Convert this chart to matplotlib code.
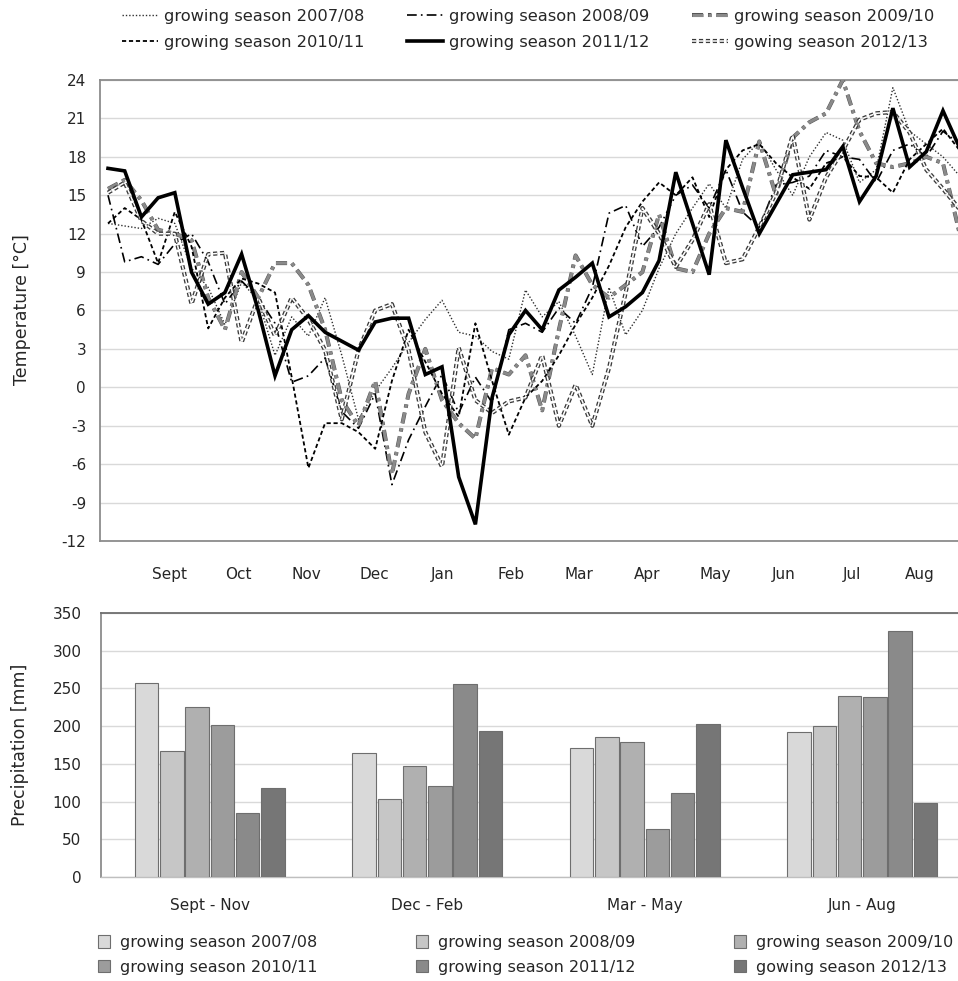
import matplotlib
matplotlib.use("Agg")
import matplotlib.pyplot as plt
import matplotlib.patheffects as pe
from matplotlib.patches import Patch
import numpy as np

plt.rcParams["font.family"] = ["DejaVu Sans"]
plt.rcParams["lines.scale_dashes"] = False
plt.rcParams["axes.unicode_minus"] = False

# ---- data -------------------------------------------------------------------
seasons = ["growing season 2007/08", "growing season 2008/09", "growing season 2009/10",
           "growing season 2010/11", "growing season 2011/12", "gowing season 2012/13"]
months = ["Sept", "Oct", "Nov", "Dec", "Jan", "Feb", "Mar", "Apr", "May", "Jun", "Jul", "Aug"]

# weekly mean temperature [°C], one value per week (52 weeks, last one runs off the frame)
t_0708 = [12.8, 12.6, 12.4, 13.2, 12.8, 9.3, 7.8, 4.9, 8.2, 6.8, 2.5, 5.5, 4.0, 7.0, 2.5,
          -2.5, -0.3, 1.5, 3.5, 5.3, 6.8, 4.3, 4.0, 2.8, 2.2, 7.6, 5.5, 6.7, 4.0, 1.0,
          7.8, 4.1, 6.0, 9.3, 12.0, 14.0, 15.9, 14.0, 17.8, 19.2, 17.0, 15.0, 18.0, 19.9,
          19.3, 16.0, 17.0, 23.4, 20.0, 19.0, 18.0, 16.5]
t_0809 = [15.0, 9.8, 10.2, 9.6, 11.2, 12.0, 9.8, 6.5, 8.3, 7.0, 5.0, 0.4, 0.9, 2.3, -1.9,
          -3.2, -0.5, -7.6, -4.1, -1.5, 1.0, -2.0, 0.8, -1.2, 4.5, 5.0, 4.3, 6.2, 5.0, 7.8,
          13.6, 14.2, 11.0, 12.5, 15.0, 15.8, 14.0, 17.0, 13.7, 12.5, 15.8, 16.0, 16.5,
          18.5, 18.0, 17.8, 16.0, 18.5, 19.0, 18.0, 20.0, 19.0]
t_0910 = [15.5, 16.2, 14.6, 12.3, 12.0, 11.5, 7.0, 4.5, 9.0, 7.0, 9.7, 9.7, 8.0, 4.5, -1.0,
          -3.0, 0.5, -6.8, -0.5, 3.0, -1.0, -2.8, -4.0, 1.5, 1.0, 2.5, -1.8, 4.5, 10.3, 8.0,
          7.0, 8.0, 9.0, 13.5, 9.3, 9.0, 12.0, 14.0, 13.7, 19.2, 15.0, 19.5, 20.7, 21.4,
          24.0, 20.0, 17.5, 17.2, 17.5, 18.0, 17.5, 12.0]
t_1011 = [12.8, 14.0, 13.1, 9.7, 13.7, 11.0, 4.6, 7.0, 8.5, 8.1, 7.4, 0.8, -6.3, -2.8, -2.8,
          -3.5, -4.8, 0.5, 4.5, 2.0, -0.5, -2.3, 5.0, 0.5, -3.7, -0.8, 0.5, 2.5, 4.9, 7.0,
          9.5, 12.5, 14.5, 16.0, 15.0, 16.4, 13.3, 17.0, 18.5, 19.0, 17.5, 16.4, 15.5, 17.5,
          18.0, 16.5, 16.4, 15.2, 17.8, 19.0, 20.2, 18.5]
t_1112 = [17.1, 16.9, 13.3, 14.8, 15.2, 9.0, 6.5, 7.4, 10.4, 6.0, 0.9, 4.5, 5.6, 4.3, 3.6,
          2.9, 5.1, 5.4, 5.4, 1.0, 1.6, -7.0, -10.7, -0.8, 4.1, 6.0, 4.5, 7.6, 8.6, 9.7,
          5.5, 6.3, 7.4, 9.9, 16.8, 12.8, 8.8, 19.3, 15.6, 12.0, 14.3, 16.6, 16.8, 17.0,
          18.8, 14.5, 16.5, 21.8, 17.2, 18.4, 21.6, 18.7]
t_1213 = [15.2, 16.0, 13.0, 12.0, 12.0, 6.5, 10.4, 10.5, 3.5, 7.0, 4.0, 7.0, 5.3, 2.9, -2.5,
          2.9, 6.0, 6.5, 2.9, -3.5, -6.2, 3.1, -1.0, -2.0, -1.1, -0.8, 2.5, -3.0, 0.2, -3.0,
          1.5, 7.4, 14.0, 12.0, 9.4, 11.5, 14.3, 9.7, 10.0, 12.5, 15.2, 19.7, 13.1, 16.4,
          18.5, 20.9, 21.4, 21.5, 19.9, 17.0, 15.5, 13.9]

# seasonal precipitation sums [mm]
periods = ["Sept - Nov", "Dec - Feb", "Mar - May", "Jun - Aug"]
p_0708 = [257, 164, 171, 192]
p_0809 = [167, 103, 185, 200]
p_0910 = [225, 147, 179, 240]
p_1011 = [202, 121, 64, 238]
p_1112 = [85, 256, 111, 326]
p_1213 = [118, 193, 203, 98]

temps = [t_0708, t_0809, t_0910, t_1011, t_1112, t_1213]
precs = [p_0708, p_0809, p_0910, p_1011, p_1112, p_1213]

# ---- styles -----------------------------------------------------------------
line_styles = [
    dict(color="#303030", lw=1.0, ls=(0, (1, 1.4))),
    dict(color="black", lw=1.2, ls=(0, (7, 3, 1.2, 3))),
    dict(color="#8a8a8a", lw=2.2, ls=(0, (8, 3.5, 2.5, 3.5))),
    dict(color="black", lw=1.3, ls=(0, (3, 2))),
    dict(color="black", lw=2.6, ls="-"),
    dict(color="white", lw=1.1, ls=(0, (3, 2))),
]
bar_colors = ["#d9d9d9", "#c6c6c6", "#b0b0b0", "#9c9c9c", "#8a8a8a", "#767676"]
txt = "#262626"

W, H = 958, 981
fig = plt.figure(figsize=(W / 100, H / 100), dpi=100)

# ---- temperature panel ------------------------------------------------------
ax = fig.add_axes([100 / W, 1 - 541 / H, 858 / W, 461 / H])
weeks = np.arange(len(t_1112))
zord = [3, 3, 3, 3, 6, 4]
for vals, st, lab, z in zip(temps, line_styles, seasons, zord):
    (ln,) = ax.plot(weeks, vals, color=st["color"], linewidth=st["lw"], linestyle=st["ls"],
                    label=lab, zorder=z, solid_joinstyle="miter")
    if st["color"] == "white":  # outlined dashes for 2012/13
        ln.set_path_effects([pe.Stroke(linewidth=3.0, foreground="#3a3a3a"), pe.Normal()])
    elif st["lw"] > 2 and st["ls"] != "-":
        ln.set_path_effects([pe.Stroke(linewidth=st["lw"] + 0.7, foreground="#555555"), pe.Normal()])

ax.set_xlim(-0.48, 50.9)
ax.set_ylim(-12, 24)
ax.set_yticks(range(-12, 25, 3))
ax.set_xticks(3.71 + 4.084 * np.arange(12))
ax.set_xticklabels(months)
ax.tick_params(axis="both", length=0, labelsize=11, colors=txt)
ax.tick_params(axis="y", pad=10)
ax.tick_params(axis="x", pad=19)
ax.grid(axis="y", color="#d9d9d9", linewidth=1.0)
ax.set_axisbelow(True)
ax.spines["right"].set_visible(False)
for s in ("left", "top", "bottom"):
    ax.spines[s].set_color("#8c8c8c")
    ax.spines[s].set_linewidth(1.3)
fig.text(22 / W, 1 - 310 / H, "Temperature [°C]", rotation=90, ha="center", va="center",
         fontsize=12.5, color=txt)

handles, labels = ax.get_legend_handles_labels()
order = [0, 3, 1, 4, 2, 5]
fig.legend([handles[i] for i in order], [labels[i] for i in order], ncol=3,
           loc="upper left", bbox_to_anchor=(122 / W, 1 - 9 / H), frameon=False,
           borderpad=0, borderaxespad=0, handlelength=2.2, handletextpad=0.4,
           columnspacing=2.6, labelspacing=0.65, fontsize=11.7, labelcolor=txt)

# ---- precipitation panel ----------------------------------------------------
bx = fig.add_axes([101 / W, 1 - 877 / H, 857 / W, 264 / H])
x = np.arange(len(periods))
slot, bw = 0.116, 0.108
for j, (vals, c, lab) in enumerate(zip(precs, bar_colors, seasons)):
    bx.bar(x + (j - 2.5) * slot, vals, width=bw, color=c, edgecolor="#6e6e6e",
           linewidth=0.8, label=lab, zorder=3)
bx.set_xlim(-0.5, 3.44)
bx.set_ylim(0, 350)
bx.set_yticks(range(0, 351, 50))
bx.set_xticks(x)
bx.set_xticklabels(periods)
bx.tick_params(axis="both", length=0, labelsize=11, colors=txt)
bx.tick_params(axis="y", pad=14)
bx.tick_params(axis="x", pad=15)
bx.grid(axis="y", color="#d9d9d9", linewidth=1.0)
bx.set_axisbelow(True)
bx.spines["right"].set_visible(False)
bx.spines["left"].set_color("#8c8c8c")
bx.spines["left"].set_linewidth(1.3)
bx.spines["top"].set_color("#6e6e6e")
bx.spines["top"].set_linewidth(1.3)
bx.spines["bottom"].set_color("#bfbfbf")
bx.spines["bottom"].set_linewidth(1.0)
fig.text(20 / W, 1 - 745 / H, "Precipitation [mm]", rotation=90, ha="center", va="center",
         fontsize=12.5, color=txt)

patches = [Patch(facecolor=c, edgecolor="#6e6e6e", linewidth=0.8) for c in bar_colors]
fig.legend([patches[i] for i in order], [seasons[i] for i in order], ncol=3,
           loc="upper left", bbox_to_anchor=(98 / W, 1 - 935 / H), frameon=False,
           borderpad=0, borderaxespad=0, handlelength=0.75, handleheight=0.8,
           handletextpad=0.6, columnspacing=6.2, labelspacing=0.6, fontsize=11.5,
           labelcolor=txt)

fig.savefig("out.png", dpi=100)
